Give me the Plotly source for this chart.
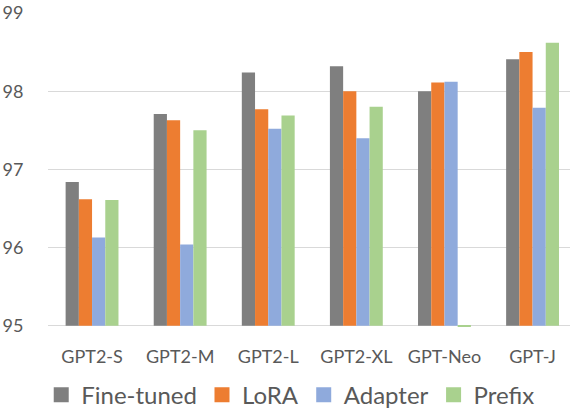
import plotly.graph_objects as go

categories = ["GPT2-S", "GPT2-M", "GPT2-L", "GPT2-XL", "GPT-Neo", "GPT-J"]
fine_tuned = [96.84, 97.71, 98.24, 98.32, 98.00, 98.41]
lora = [96.62, 97.63, 97.77, 98.00, 98.11, 98.50]
adapter = [96.13, 96.04, 97.52, 97.40, 98.12, 97.79]
prefix = [96.61, 97.50, 97.69, 97.80, 94.98, 98.62]
y_ticks = [95, 96, 97, 98, 99]

series = [
    ("Fine-tuned", fine_tuned, "#7f7f7f"),
    ("LoRA", lora, "#ed7d31"),
    ("Adapter", adapter, "#8faadc"),
    ("Prefix", prefix, "#a9d18e"),
]

BASE = 95
fig = go.Figure()
for name, vals, color in series:
    fig.add_trace(go.Bar(
        name=name, x=categories, y=[v - BASE for v in vals], base=BASE,
        marker=dict(color=color, line=dict(width=0)), showlegend=False,
        customdata=vals, hovertemplate="%{x}: %{customdata}<extra>" + name + "</extra>",
    ))
# legend entries as square markers
for name, vals, color in series:
    fig.add_trace(go.Scatter(
        name=name, x=[None], y=[None], mode="markers",
        marker=dict(symbol="square", size=15, color=color), showlegend=True,
    ))

font_family = "Lato, 'Open Sans', sans-serif"
fig.update_layout(
    width=570, height=412,
    margin=dict(l=48, r=0, t=13, b=85, autoexpand=False),
    paper_bgcolor="white", plot_bgcolor="white",
    barmode="group", bargap=0.4, bargroupgap=0,
    font=dict(family=font_family, color="#595959"),
    showlegend=True,
    legend=dict(orientation="h", x=0.465, xanchor="center", y=-0.217, yanchor="middle",
                font=dict(size=24, color="#595959"), itemwidth=30, tracegroupgap=0,
                itemsizing="trace"),
)
fig.update_xaxes(
    type="category", range=[-0.5, 5.425],
    showgrid=False, showline=False, zeroline=False,
    ticks="outside", ticklen=13, tickcolor="rgba(0,0,0,0)",
    tickfont=dict(size=18, color="#595959"),
)
fig.update_yaxes(
    range=[94.985, 99], tickvals=y_ticks,
    showgrid=True, gridcolor="#d9d9d9", gridwidth=1, zeroline=False, showline=False,
    ticks="outside", ticklen=20, tickcolor="rgba(0,0,0,0)",
    tickfont=dict(size=18, color="#595959"),
)

fig.write_html("out.html", config={"displayModeBar": False},
               post_script="document.body.style.margin='0';document.body.style.overflow='hidden';")
